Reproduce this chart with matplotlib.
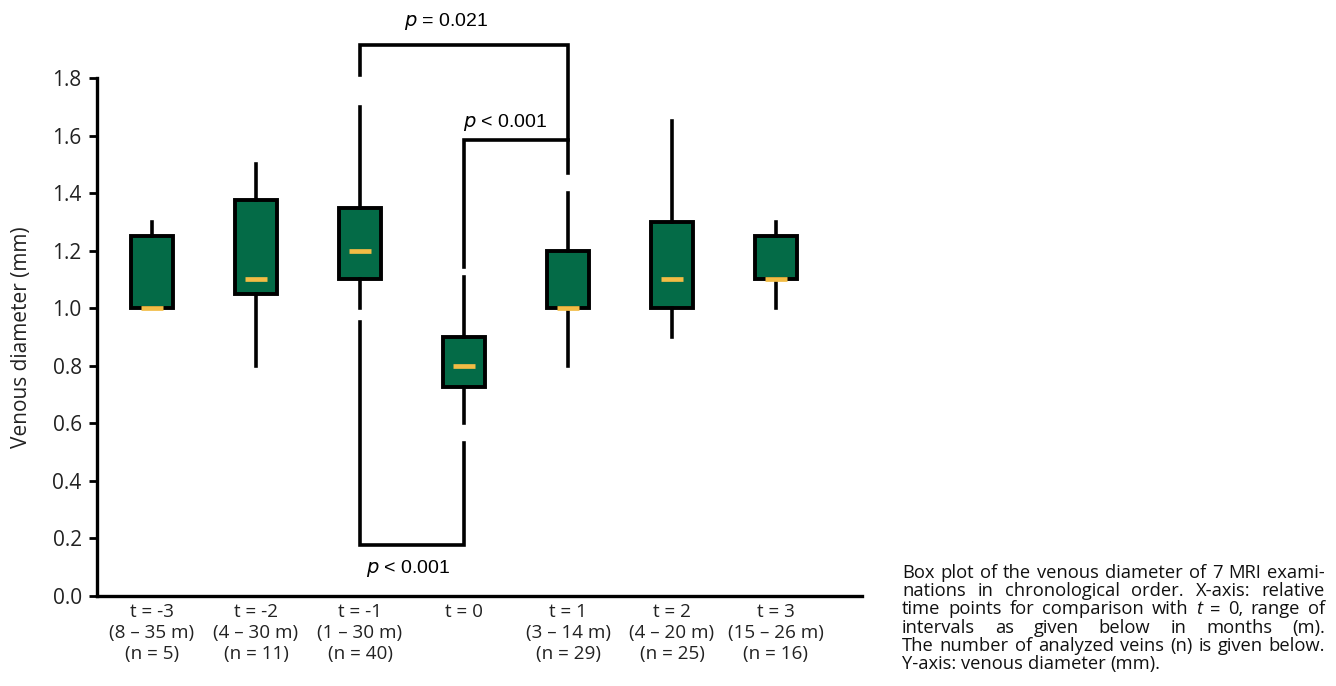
import matplotlib
matplotlib.use("Agg")
import matplotlib.pyplot as plt
import numpy as np

# data
labels = ["t = -3\n(8 – 35 m)\n(n = 5)", "t = -2\n(4 – 30 m)\n(n = 11)",
          "t = -1\n(1 – 30 m)\n(n = 40)", "t = 0\n\n",
          "t = 1\n(3 – 14 m)\n(n = 29)", "t = 2\n(4 – 20 m)\n(n = 25)",
          "t = 3\n(15 – 26 m)\n(n = 16)"]
whisk_lo = [1.00, 0.80, 1.00, 0.60, 0.80, 0.90, 1.00]
q1 = [1.00, 1.05, 1.10, 0.725, 1.00, 1.00, 1.10]
median = [1.00, 1.10, 1.20, 0.80, 1.00, 1.10, 1.10]
q3 = [1.25, 1.375, 1.35, 0.90, 1.20, 1.30, 1.25]
whisk_hi = [1.30, 1.50, 1.70, 1.11, 1.40, 1.65, 1.30]

caption = [
    [("Box plot of the venous diameter of 7 MRI exami-", "normal")],
    [("nations in chronological order. X-axis: relative", "normal")],
    [("time points for comparison with", "normal"), ("t", "italic"),
     ("= 0, range of", "normal")],
    [("intervals as given below in months (m).", "normal")],
    [("The number of analyzed veins (n) is given below.", "normal")],
    [("Y-axis: venous diameter (mm).", "normal")],
]

GREEN = "#046B47"
GOLD = "#F2BC45"
W, H = 1336, 686

fig = plt.figure(figsize=(13.36, 6.86), dpi=100)
ax = fig.add_axes([97 / W, 1 - 596 / H, (862 - 97) / W, (596 - 78) / H])
pos = np.arange(1, len(labels) + 1)

stats = [dict(whislo=a, q1=b, med=c, q3=d, whishi=e, fliers=[])
         for a, b, c, d, e in zip(whisk_lo, q1, median, q3, whisk_hi)]
ax.bxp(stats, positions=pos, widths=0.41, patch_artist=True, showcaps=False,
       boxprops=dict(facecolor=GREEN, edgecolor="black", linewidth=2.8),
       whiskerprops=dict(color="black", linewidth=2.6),
       medianprops=dict(color=GOLD, linewidth=0, solid_capstyle="butt"))
# short gold median bars
for x, m in zip(pos, median):
    ax.plot([x - 0.105, x + 0.105], [m, m], color=GOLD, lw=3.4,
            solid_capstyle="butt", zorder=5)

ax.set_xlim(0.471, 7.827)
ax.set_ylim(0, 1.8)
ax.set_yticks(np.arange(0, 1.81, 0.2))
ax.set_yticklabels([f"{v:.1f}" for v in np.arange(0, 1.81, 0.2)],
                   family="Open Sans", fontsize=15, color="#222222")
ax.tick_params(axis="y", direction="out", length=6, width=2, pad=5)
ax.tick_params(axis="x", length=0, pad=5)
ax.set_xticks(pos)
ax.set_xticklabels(labels, family="Open Sans", fontsize=13.6,
                   linespacing=1.22, color="#222222")
for s in ["top", "right"]:
    ax.spines[s].set_visible(False)
for s in ["left", "bottom"]:
    ax.spines[s].set_linewidth(2.4)
ax.set_ylabel("Venous diameter (mm)", family="Open Sans", fontsize=15,
              color="#222222", labelpad=15)

# significance brackets
bk = dict(color="black", lw=2.6, clip_on=False, solid_joinstyle="miter")
ax.plot([3, 3, 5, 5], [1.81, 1.915, 1.915, 1.47], **bk)
ax.plot([4, 4, 5], [1.143, 1.585, 1.585], **bk)
ax.plot([3, 3, 4, 4], [0.952, 0.177, 0.177, 0.53], **bk)

pfont = dict(family="Liberation Sans", fontsize=14, ha="center", va="center")
ax.text(3.83, 1.995, r"$\it{p}$ = 0.021", clip_on=False, **pfont)
ax.text(4.4, 1.645, r"$\it{p}$ < 0.001", **pfont)
ax.text(3.46, 0.095, r"$\it{p}$ < 0.001", **pfont)

# justified caption on the right
x0, x1 = 902, 1325
y0, dy = 573, 18.2
cfs = 13.2
renderer = fig.canvas.get_renderer()
space = (fig.text(0, 0, "a a", family="Open Sans", fontsize=cfs)
         .get_window_extent(renderer).width
         - fig.text(0, 0, "aa", family="Open Sans", fontsize=cfs)
         .get_window_extent(renderer).width)
for t in fig.texts[:]:
    t.remove()
for i, line in enumerate(caption):
    words = []
    for chunk, style in line:
        for w in chunk.split():
            words.append(fig.text(0, 0, w, family="Open Sans", fontsize=cfs,
                                  style=style, color="#111111", va="center"))
    widths = [t.get_window_extent(renderer).width for t in words]
    if i == len(caption) - 1:
        g = space
    else:
        g = (x1 - x0 - sum(widths)) / (len(words) - 1)
    x = x0
    for t, w in zip(words, widths):
        t.set_position((x / W, 1 - (y0 + i * dy) / H))
        x += w + g

fig.savefig("out.png", dpi=100)
